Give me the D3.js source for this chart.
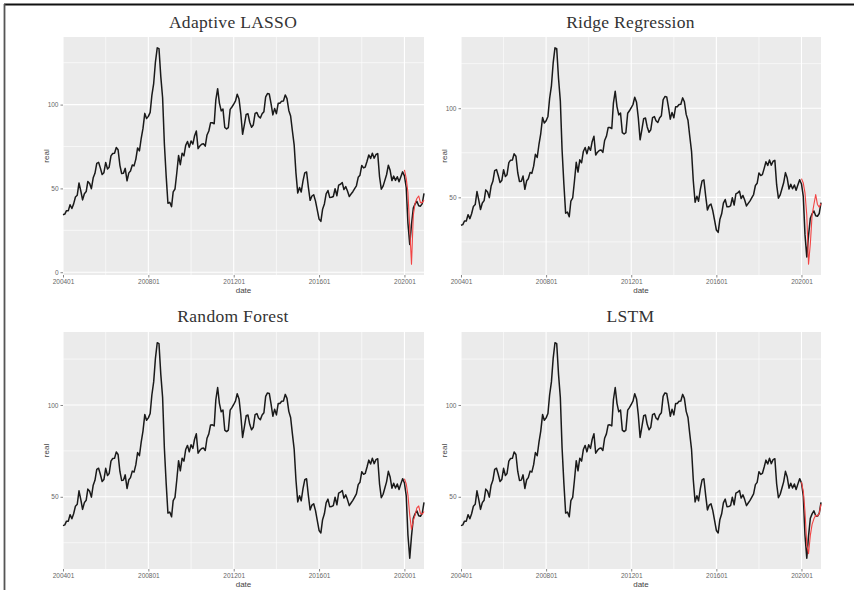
<!DOCTYPE html>
<html>
<head>
<meta charset="utf-8">
<script src="https://cdn.jsdelivr.net/npm/d3@7"></script>
<style>
  html, body { margin: 0; padding: 0; background: #fff; }
  svg { display: block; }
</style>
</head>
<body>
<svg id="chart" width="854" height="590"></svg>
<script>
// Monthly WTI spot price (real), Jan 2004 – Dec 2020
const startMonth = "2004-01";
const real = [
  34.31, 34.69, 36.74, 36.75, 40.28, 38.03, 40.78, 44.90, 45.94, 53.28, 48.47, 43.15,
  46.84, 48.15, 54.19, 52.98, 49.83, 56.35, 59.00, 64.99, 65.59, 62.26, 58.32, 59.41,
  65.49, 61.63, 62.69, 69.44, 70.84, 70.95, 74.41, 73.04, 63.80, 58.89, 59.08, 61.96,
  54.51, 59.28, 60.44, 63.98, 63.46, 67.49, 74.12, 72.36, 79.92, 85.80, 94.77, 91.69,
  92.97, 95.39, 105.45, 112.58, 125.40, 133.88, 133.37, 116.67, 104.11, 76.61, 57.31, 41.12,
  41.71, 39.09, 47.94, 49.65, 59.03, 69.64, 64.15, 71.05, 69.41, 75.72, 77.99, 74.47,
  78.33, 76.39, 81.20, 84.29, 73.74, 75.34, 76.32, 76.60, 75.24, 81.89, 84.25, 89.15,
  89.17, 88.58, 102.86, 109.53, 100.90, 96.26, 97.30, 86.33, 85.52, 86.32, 97.16, 98.56,
  100.27, 102.20, 106.16, 103.32, 94.66, 82.30, 87.90, 94.13, 94.51, 89.49, 86.53, 87.86,
  94.76, 95.31, 92.94, 92.02, 94.51, 95.77, 104.67, 106.57, 106.29, 100.54, 93.86, 97.63,
  94.62, 100.82, 100.80, 102.07, 102.18, 105.79, 103.59, 96.54, 93.21, 84.40, 75.79, 59.29,
  47.22, 50.58, 47.82, 54.45, 59.27, 59.82, 50.90, 42.87, 45.48, 46.22, 42.44, 37.19,
  31.68, 30.32, 37.55, 40.75, 46.71, 48.76, 44.65, 44.72, 45.18, 49.78, 45.66, 51.97,
  52.50, 53.47, 49.33, 51.06, 48.48, 45.18, 46.63, 48.04, 49.82, 51.58, 56.64, 57.88,
  63.70, 62.23, 62.73, 66.25, 69.98, 67.87, 70.98, 68.06, 70.23, 70.75, 56.96, 49.52,
  51.38, 54.95, 58.15, 63.86, 60.83, 54.66, 57.35, 54.81, 56.95, 53.96, 57.03, 59.88,
  57.52, 50.54, 29.21, 16.55, 28.56, 38.31, 40.71, 42.34, 39.63, 39.40, 40.94, 47.02
];

// Out-of-sample forecasts, Jan 2020 – Dec 2020
const predStart = "2020-01";
const predLasso = [61.0, 56.0, 47.5, 26.0, 4.8, 34.0, 41.0, 44.0, 45.5, 41.5, 41.5, 43.0];
const predRidge = [60.5, 58.0, 52.5, 40.0, 12.5, 24.0, 40.0, 46.0, 51.5, 46.0, 44.5, 46.5];
const predRF    = [59.8, 57.0, 51.0, 40.0, 32.2, 37.0, 40.0, 44.0, 45.0, 41.0, 40.5, 42.0];
const predLSTM  = [58.0, 53.0, 42.0, 24.0, 19.0, 29.0, 35.0, 38.0, 40.0, 39.5, 41.0, 46.0];

const titles = ["Adaptive LASSO", "Ridge Regression", "Random Forest", "LSTM"];
const predictions = [predLasso, predRidge, predRF, predLSTM];

// x-axis breaks and minor breaks
const xBreaks = ["2004-01", "2008-01", "2012-01", "2016-01", "2020-01"];
const xMinor  = ["2006-01", "2010-01", "2014-01", "2018-01"];
const yBreaks = [0, 50, 100];
const yMinor  = [25, 75, 125];

const parseMonth = d3.timeParse("%Y-%m");
const fmtMonth = d3.timeFormat("%Y%m");

const t0 = parseMonth(startMonth);
const realSeries = real.map((v, i) => ({ date: d3.timeMonth.offset(t0, i), value: v }));
const p0 = parseMonth(predStart);

// panel boxes
const panels = [
  { left: 63,  right: 424, top: 37,  bottom: 275, titleX: 233, titleY: 28 },
  { left: 461, right: 821, top: 37,  bottom: 275, titleX: 630.5, titleY: 28 },
  { left: 63,  right: 424, top: 332, bottom: 569, titleX: 233, titleY: 322 },
  { left: 461, right: 821, top: 332, bottom: 569, titleX: 630.5, titleY: 322 }
];

const svg = d3.select("#chart");

// outer frame
svg.append("line").attr("x1", 4).attr("x2", 854).attr("y1", 4.5).attr("y2", 4.5)
  .attr("stroke", "#111").attr("stroke-width", 1.8);
svg.append("line").attr("x1", 4.5).attr("x2", 4.5).attr("y1", 4).attr("y2", 590)
  .attr("stroke", "#555").attr("stroke-width", 1.8);

panels.forEach((p, k) => {
  const pred = predictions[k].map((v, i) => ({ date: d3.timeMonth.offset(p0, i), value: v }));
  const allVals = real.concat(predictions[k]);
  const [lo, hi] = d3.extent(allVals);
  const pad = (hi - lo) * 0.05;

  const x = d3.scaleTime()
    .domain([realSeries[0].date, realSeries[realSeries.length - 1].date])
    .range([p.left, p.right]);
  const y = d3.scaleLinear()
    .domain([lo - pad, hi + pad])
    .range([p.bottom, p.top]);

  const g = svg.append("g");

  // panel background
  g.append("rect")
    .attr("x", p.left).attr("y", p.top)
    .attr("width", p.right - p.left).attr("height", p.bottom - p.top)
    .attr("fill", "#EBEBEB");

  const inY = v => v >= y.domain()[0] && v <= y.domain()[1];

  // minor grid
  g.selectAll(null).data(yMinor.filter(inY)).join("line")
    .attr("x1", p.left).attr("x2", p.right)
    .attr("y1", d => y(d)).attr("y2", d => y(d))
    .attr("stroke", "#fff").attr("stroke-width", 0.6);
  g.selectAll(null).data(xMinor.map(parseMonth)).join("line")
    .attr("x1", d => x(d)).attr("x2", d => x(d))
    .attr("y1", p.top).attr("y2", p.bottom)
    .attr("stroke", "#fff").attr("stroke-width", 0.6);

  // major grid
  g.selectAll(null).data(yBreaks.filter(inY)).join("line")
    .attr("x1", p.left).attr("x2", p.right)
    .attr("y1", d => y(d)).attr("y2", d => y(d))
    .attr("stroke", "#fff").attr("stroke-width", 1.1);
  g.selectAll(null).data(xBreaks.map(parseMonth)).join("line")
    .attr("x1", d => x(d)).attr("x2", d => x(d))
    .attr("y1", p.top).attr("y2", p.bottom)
    .attr("stroke", "#fff").attr("stroke-width", 1.1);

  // axes
  const xAxis = d3.axisBottom(x)
    .tickValues(xBreaks.map(parseMonth))
    .tickFormat(fmtMonth)
    .tickSize(2.5).tickPadding(2);
  const xg = g.append("g").attr("transform", `translate(0,${p.bottom})`).call(xAxis);
  const yAxis = d3.axisLeft(y)
    .tickValues(yBreaks.filter(inY))
    .tickSize(2.5).tickPadding(2);
  const yg = g.append("g").attr("transform", `translate(${p.left},0)`).call(yAxis);
  [xg, yg].forEach(a => {
    a.select(".domain").remove();
    a.selectAll(".tick line").attr("stroke", "#666").attr("stroke-width", 0.8);
    a.selectAll(".tick text")
      .attr("fill", "#666")
      .style("font-family", "Liberation Sans, Arial, sans-serif")
      .style("font-size", "6.5px");
  });

  // axis titles
  g.append("text")
    .attr("x", (p.left + p.right) / 2).attr("y", p.bottom + 18)
    .attr("text-anchor", "middle")
    .style("font-family", "Liberation Sans, Arial, sans-serif")
    .style("font-size", "8px").attr("fill", "#444")
    .text("date");
  g.append("text")
    .attr("transform", `translate(${p.left - 14},${(p.top + p.bottom) / 2}) rotate(-90)`)
    .attr("text-anchor", "middle")
    .style("font-family", "Liberation Sans, Arial, sans-serif")
    .style("font-size", "8px").attr("fill", "#444")
    .text("real");

  // title
  g.append("text")
    .attr("x", p.titleX).attr("y", p.titleY)
    .attr("text-anchor", "middle")
    .style("font-family", "Liberation Serif, 'DejaVu Serif', serif")
    .style("font-size", "17.5px").attr("fill", "#333")
    .style("letter-spacing", "0.3px")
    .text(titles[k]);

  const line = d3.line().x(d => x(d.date)).y(d => y(d.value));

  g.append("path").datum(realSeries)
    .attr("d", line).attr("fill", "none")
    .attr("stroke", "#1a1a1a").attr("stroke-width", 1.5)
    .attr("stroke-linejoin", "round");

  g.append("path").datum(pred)
    .attr("d", line).attr("fill", "none")
    .attr("stroke", "#f24444").attr("stroke-width", 1.1)
    .attr("stroke-linejoin", "round");
});
</script>
</body>
</html>
